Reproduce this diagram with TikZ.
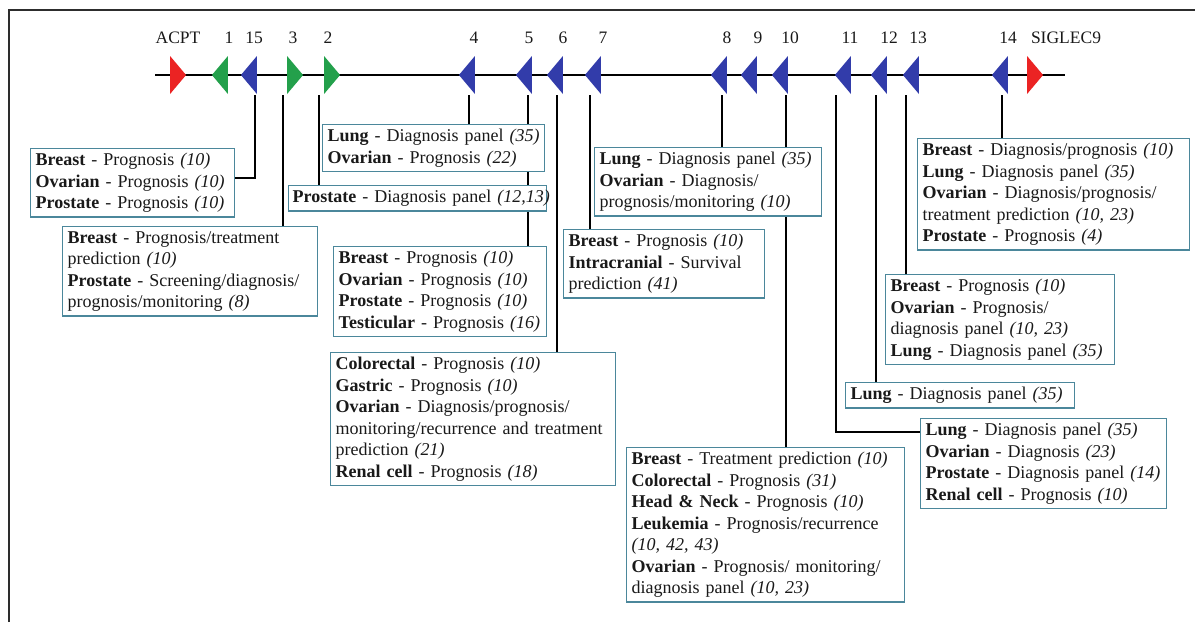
\documentclass[tikz,border=0pt]{standalone}
\usepackage{fontspec}
\setmainfont{Liberation Serif}
\usepackage{xcolor}
\usepackage{tikz}
\usetikzlibrary{shapes.geometric, positioning, backgrounds}
\definecolor{genered}{RGB}{235, 35, 35}
\definecolor{genegreen}{RGB}{35, 160, 75}
\definecolor{geneblue}{RGB}{50, 60, 170}
\definecolor{panelline}{RGB}{75, 135, 155}
\definecolor{framegray}{RGB}{45, 45, 45}
\definecolor{darktext}{RGB}{25, 25, 25}

\tikzset{
  fwdgene/.style={isosceles triangle, isosceles triangle stretches, minimum width=38pt, minimum height=16pt, inner sep=0pt},
  revgene/.style={fwdgene, shape border rotate=180},
  genelabel/.style={font=\fontsize{17.5}{20}\selectfont, text=darktext},
  panel/.style={draw=panelline, line width=1.4pt, fill=white, anchor=north west, align=left,
                inner xsep=5pt, inner ysep=4.5pt, text=darktext, font=\fontsize{18}{21.5}\selectfont},
  link/.style={line width=1.3pt, black}
}

\begin{document}
\begin{tikzpicture}[x=1pt, y=-1pt]
            \useasboundingbox (0,0) rectangle (1195,622);
            \draw[framegray, line width=2.5pt] (9,622) -- (9,10) -- (1195,10);

            \coordinate (axisw) at (155,75);
            \coordinate (axise) at (1065,75);

            \node[fwdgene, fill=genered] (gacpt) at (177,75) {};
            \node[fwdgene, fill=genered] (gsiglec) at (1034,75) {};
            \foreach \x/\n in {294/3, 331/2}
                \node[fwdgene, fill=genegreen] (g\n) at (\x,75) {};
            \node[revgene, fill=genegreen] (g1) at (221,75) {};
            \foreach \x/\n in {250/15, 468/4, 525/5, 556/6, 594/7, 720/8, 750/9, 781/10, 844/11, 880/12, 912/13, 1001/14}
                \node[revgene, fill=geneblue] (g\n) at (\x,75) {};

            \node[genelabel] (lacpt) at (178,38) {ACPT};
            \node[genelabel] (lsiglec) at (1066,38) {SIGLEC9};
            \foreach \x/\n in {229/1, 254/15, 293/3, 328/2, 474/4, 529/5, 563/6, 603/7, 727/8, 758/9, 790/10, 850/11, 889/12, 918/13, 1008/14}
                \node[genelabel] (l\n) at (\x,38) {\n};

            \foreach \x/\n in {255/15, 283/3, 319/2, 469/4, 528/5, 557/6, 590/7, 722/8, 786/10, 836/11, 876/12, 906/13, 1002/14}
                \coordinate (c\n) at (\x,95);

            \node[panel, text width=194pt] (p15) at (30,148) {
                \textbf{Breast} - Prognosis \textit{(10)}\\
                \textbf{Ovarian} - Prognosis \textit{(10)}\\
                \textbf{Prostate} - Prognosis \textit{(10)}};
            \node[panel, text width=245pt] (p3) at (62,226) {
                \textbf{Breast} - Prognosis/treatment\\
                prediction \textit{(10)}\\
                \textbf{Prostate} - Screening/diagnosis/\\
                prognosis/monitoring \textit{(8)}};
            \node[panel, text width=212pt] (p4) at (322,124) {
                \textbf{Lung} - Diagnosis panel \textit{(35)}\\
                \textbf{Ovarian} - Prognosis \textit{(22)}};
            \node[panel, text width=250pt, inner xsep=4pt] (p2) at (288,185) {
                \mbox{\textbf{Prostate} - Diagnosis panel \textit{(12,13)}}};
            \node[panel, text width=203pt] (p5) at (333,246) {
                \textbf{Breast} - Prognosis \textit{(10)}\\
                \textbf{Ovarian} - Prognosis \textit{(10)}\\
                \textbf{Prostate} - Prognosis \textit{(10)}\\
                \mbox{\textbf{Testicular} - Prognosis \textit{(16)}}};
            \node[panel, text width=275pt] (p6) at (330,352) {
                \textbf{Colorectal} - Prognosis \textit{(10)}\\
                \textbf{Gastric} - Prognosis \textit{(10)}\\
                \textbf{Ovarian} - Diagnosis/prognosis/\\
                monitoring/recurrence and treatment\\
                prediction \textit{(21)}\\
                \textbf{Renal cell} - Prognosis \textit{(18)}};
            \node[panel, text width=191pt] (p7) at (563,229) {
                \textbf{Breast} - Prognosis \textit{(10)}\\
                \textbf{Intracranial} - Survival\\
                prediction \textit{(41)}};
            \node[panel, text width=217pt] (p8) at (594,147) {
                \textbf{Lung} - Diagnosis panel \textit{(35)}\\
                \textbf{Ovarian} - Diagnosis/\\
                prognosis/monitoring \textit{(10)}};
            \node[panel, text width=268pt] (p10) at (626,447) {
                \textbf{Breast} - Treatment prediction \textit{(10)}\\
                \textbf{Colorectal} - Prognosis \textit{(31)}\\
                \textbf{Head \& Neck} - Prognosis \textit{(10)}\\
                \textbf{Leukemia} - Prognosis/recurrence\\
                \textit{(10, 42, 43)}\\
                \textbf{Ovarian} - Prognosis/ monitoring/\\
                diagnosis panel \textit{(10, 23)}};
            \node[panel, text width=262pt] (p14) at (917,138) {
                \textbf{Breast} - Diagnosis/prognosis \textit{(10)}\\
                \textbf{Lung} - Diagnosis panel \textit{(35)}\\
                \textbf{Ovarian} - Diagnosis/prognosis/\\
                treatment prediction \textit{(10, 23)}\\
                \textbf{Prostate} - Prognosis \textit{(4)}};
            \node[panel, text width=219pt] (p13) at (885,274) {
                \textbf{Breast} - Prognosis \textit{(10)}\\
                \textbf{Ovarian} - Prognosis/\\
                diagnosis panel \textit{(10, 23)}\\
                \textbf{Lung} - Diagnosis panel \textit{(35)}};
            \node[panel, text width=219pt] (p12) at (845,382) {
                \textbf{Lung} - Diagnosis panel \textit{(35)}};
            \node[panel, text width=236pt] (p11) at (920,418) {
                \textbf{Lung} - Diagnosis panel \textit{(35)}\\
                \textbf{Ovarian} - Diagnosis \textit{(23)}\\
                \textbf{Prostate} - Diagnosis panel \textit{(14)}\\
                \textbf{Renal cell} - Prognosis \textit{(10)}};

            \begin{scope}[on background layer]
                \draw[link] (axisw) -- (axise);
                \draw[link] (c15) |- ([yshift=-30pt]p15.north east);
                \draw[link] (c11) |- ([yshift=-14pt]p11.north west);
                \foreach \n in {3, 2, 4, 5, 6, 7, 8, 10, 12, 13, 14}
                    \draw[link] (c\n) -- (c\n |- p\n.north);
            \end{scope}
        \end{tikzpicture}
\end{document}
